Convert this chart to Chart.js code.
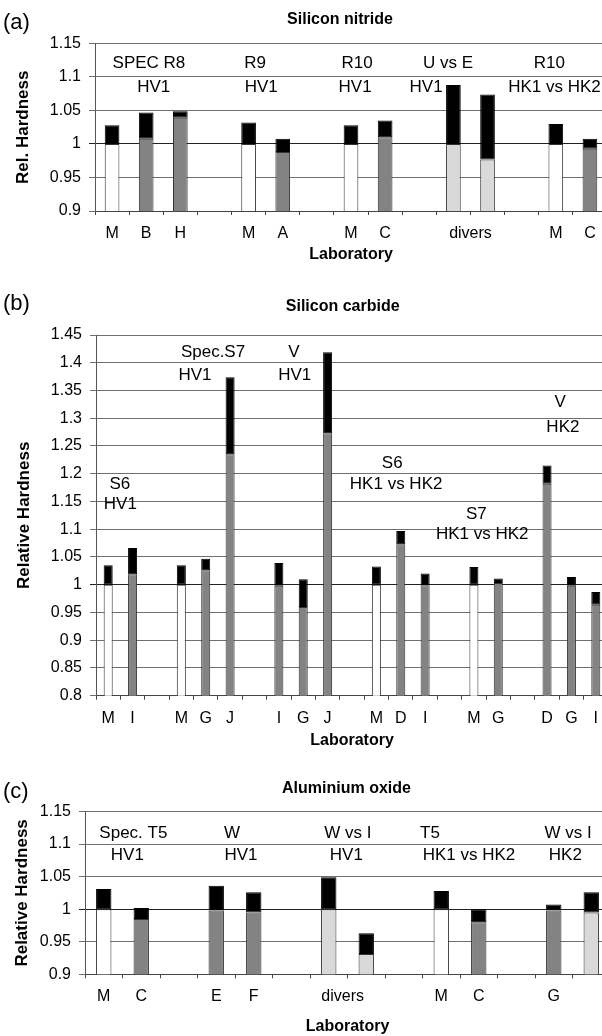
<!DOCTYPE html>
<html>
<head>
<meta charset="utf-8">
<script src="https://cdn.jsdelivr.net/npm/chart.js@4.4.1/dist/chart.umd.min.js"></script>
<style>
  html, body { margin: 0; padding: 0; background: #fff; overflow: hidden; width: 602px; height: 1036px; position: relative; }
  canvas { position: absolute; left: 0; }
</style>
</head>
<body>
<canvas id="chartA" width="607" height="270" style="top:0px"></canvas>
<canvas id="chartB" width="608" height="475" style="top:280px"></canvas>
<canvas id="chartC" width="610" height="280" style="top:760px"></canvas>
<script>
// (a) Silicon nitride
const labelsA = ['M', 'B', 'H', '', 'M', 'A', '', 'M', 'C', '', '', '', '', 'M', 'C'];
const kindA = ['ref', 'lab', 'lab', null, 'ref', 'lab', null, 'ref', 'lab', null, 'div', 'div', null, 'ref', 'lab'];
const lowA = [1.0, 1.008, 1.039, null, 1.0, 0.988, null, 1.0, 1.01, null, 1.0, 0.977, null, 1.0, 0.993];
const highA = [1.028, 1.047, 1.049, null, 1.032, 1.008, null, 1.028, 1.035, null, 1.088, 1.074, null, 1.03, 1.008];
const ticksA = [0.9, 0.95, 1, 1.05, 1.1, 1.15];
const notesA = [
  ['SPEC R8', 1.08, 1.113], ['HV1', 1.22, 1.078],
  ['R9', 4.19, 1.113], ['HV1', 4.37, 1.078],
  ['R10', 7.18, 1.113], ['HV1', 7.12, 1.078],
  ['U vs E', 9.84, 1.113], ['HV1', 9.2, 1.078],
  ['R10', 12.81, 1.113], ['HK1 vs HK2', 12.96, 1.078]
];

// (b) Silicon carbide
const labelsB = ['M', 'I', '', 'M', 'G', 'J', '', 'I', 'G', 'J', '', 'M', 'D', 'I', '', 'M', 'G', '', 'D', 'G', 'I'];
const kindB = ['ref', 'lab', null, 'ref', 'lab', 'lab', null, 'lab', 'lab', 'lab', null, 'ref', 'lab', 'lab', null, 'ref', 'lab', null, 'lab', 'lab', 'lab'];
const lowB = [1.0, 1.019, null, 1.0, 1.026, 1.235, null, 0.998, 0.96, 1.273, null, 1.0, 1.073, 0.999, null, 1.0, 1.003, null, 1.182, 0.998, 0.964];
const highB = [1.035, 1.066, null, 1.035, 1.047, 1.374, null, 1.039, 1.01, 1.419, null, 1.033, 1.097, 1.02, null, 1.032, 1.011, null, 1.215, 1.014, 0.987];
const ticksB = [0.8, 0.85, 0.9, 0.95, 1, 1.05, 1.1, 1.15, 1.2, 1.25, 1.3, 1.35, 1.4, 1.45];
const notesB = [
  ['S6', 0.48, 1.172], ['HV1', 0.5, 1.136],
  ['Spec.S7', 4.3, 1.411], ['HV1', 3.56, 1.369],
  ['V', 7.62, 1.411], ['HV1', 7.65, 1.369],
  ['S6', 11.65, 1.211], ['HK1 vs HK2', 11.81, 1.172],
  ['S7', 15.1, 1.118], ['HK1 vs HK2', 15.34, 1.082],
  ['V', 18.54, 1.32], ['HK2', 18.65, 1.276]
];

// (c) Aluminium oxide
const labelsC = ['M', 'C', '', 'E', 'F', '', '', '', '', 'M', 'C', '', 'G', ''];
const kindC = ['ref', 'lab', null, 'lab', 'lab', null, 'div', 'div', null, 'ref', 'lab', null, 'lab', 'div'];
const lowC = [1.0, 0.985, null, 0.998, 0.995, null, 1.0, 0.931, null, 1.0, 0.98, null, 0.998, 0.995];
const highC = [1.031, 1.002, null, 1.036, 1.026, null, 1.049, 0.963, null, 1.028, 1.0, null, 1.007, 1.026];
const ticksC = [0.9, 0.95, 1, 1.05, 1.1, 1.15];
const notesC = [
  ['Spec. T5', 0.79, 1.109], ['HV1', 0.63, 1.0755],
  ['W', 3.42, 1.109], ['HV1', 3.66, 1.0755],
  ['W vs I', 6.51, 1.109], ['HV1', 6.47, 1.0755],
  ['T5', 8.7, 1.109], ['HK1 vs HK2', 9.74, 1.0755],
  ['W vs I', 12.38, 1.109], ['HK2', 12.31, 1.0755]
];

const FONT = "'Liberation Sans', Arial, Helvetica, sans-serif";
const fills = { ref: '#ffffff', lab: '#838383', div: '#d9d9d9' };

Chart.defaults.font.family = FONT;
Chart.defaults.color = '#000';

// texts that are not axis ticks: panel letter, title, notes, 'divers'
const textPlugin = (p) => ({
  id: 'texts',
  afterDraw(chart) {
    const { ctx, scales: { x, y } } = chart;
    ctx.save();
    ctx.fillStyle = '#000';
    ctx.textBaseline = 'middle';
    ctx.textAlign = 'left';
    ctx.font = '22px ' + FONT;
    ctx.fillText(p.panel, 3, p.panelY);
    ctx.textAlign = 'center';
    ctx.font = 'bold 16px ' + FONT;
    ctx.fillText(p.title, p.titleX, p.titleY);

    ctx.font = '17px ' + FONT;
    ctx.textBaseline = 'alphabetic';
    p.notes.forEach(([t, i, v]) => {
      ctx.fillText(t, x.getPixelForValue(i), y.getPixelForValue(v));
    });

    if (p.divers !== undefined) {
      ctx.font = '16px ' + FONT;
      ctx.textBaseline = 'middle';
      ctx.fillText('divers', x.getPixelForValue(p.divers), x.top + 4 + p.xPad + 9.6);
    }
    ctx.restore();
  }
});

function buildChart(id, labels, kinds, low, high, yTicks, p) {
  const caps = high.map((h, i) => (h === null ? null : h - low[i]));
  new Chart(document.getElementById(id), {
    type: 'bar',
    data: {
      labels: labels,
      datasets: [
        {
          data: low,
          backgroundColor: kinds.map((k) => fills[k] || '#fff'),
          borderColor: '#333',
          borderWidth: 1,
          borderSkipped: false,
        },
        {
          data: caps,
          backgroundColor: '#000',
          borderColor: '#000',
          borderWidth: 1,
          borderSkipped: false,
        },
      ],
    },
    options: {
      responsive: false,
      animation: false,
      devicePixelRatio: 1,
      layout: { padding: { top: p.top, left: 0, right: 0, bottom: 0 } },
      datasets: { bar: { barPercentage: p.bar, categoryPercentage: 1 } },
      plugins: {
        legend: { display: false },
        tooltip: { enabled: false },
        title: { display: false },
      },
      scales: {
        x: {
          stacked: true,
          offset: true,
          grid: { offset: true, drawOnChartArea: false, drawTicks: true, tickLength: 4, color: '#444' },
          border: { color: '#444' },
          ticks: { color: '#000', padding: p.xPad, autoSkip: false, maxRotation: 0, font: { size: 16 } },
          title: {
            display: true,
            text: 'Laboratory',
            color: '#000',
            font: { size: 16, weight: 'bold' },
            padding: { top: 0, bottom: p.labPad },
          },
          afterFit: (s) => { s.height = p.xHeight; },
        },
        y: {
          stacked: true,
          min: yTicks[0],
          max: yTicks[yTicks.length - 1],
          afterBuildTicks: (s) => { s.ticks = yTicks.map((v) => ({ value: v })); },
          grid: {
            color: (c) => (c.tick && c.tick.value === 1 ? '#222' : '#707070'),
            tickLength: 6,
          },
          border: { color: '#555' },
          ticks: { color: '#000', padding: 8, font: { size: 16 }, callback: (v) => String(+v.toFixed(2)) },
          title: {
            display: true,
            text: p.yTitle,
            color: '#000',
            font: { size: 17, weight: 'bold' },
            padding: { top: p.yTitlePad, bottom: 0 },
          },
          afterFit: (s) => { s.width = p.axisX; },
        },
      },
    },
    plugins: [textPlugin(p)],
  });
}

buildChart('chartA', labelsA, kindA, lowA, highA, ticksA, {
  panel: '(a)', panelY: 23, title: 'Silicon nitride', titleX: 340, titleY: 20,
  notes: notesA, divers: 10.5, yTitle: 'Rel. Hardness',
  top: 43.5, xHeight: 59, xPad: 9.4, labPad: 5.5, axisX: 95, yTitlePad: 12.8, bar: 0.43,
});

buildChart('chartB', labelsB, kindB, lowB, highB, ticksB, {
  panel: '(b)', panelY: 23.5, title: 'Silicon carbide', titleX: 342.7, titleY: 26.5,
  notes: notesB, yTitle: 'Relative Hardness',
  top: 55, xHeight: 59.3, xPad: 9.7, labPad: 4.4, axisX: 96, yTitlePad: 13.8, bar: 0.37,
});

buildChart('chartC', labelsC, kindC, lowC, highC, ticksC, {
  panel: '(c)', panelY: 32, title: 'Aluminium oxide', titleX: 346.5, titleY: 29,
  notes: notesC, divers: 6.37, yTitle: 'Relative Hardness',
  top: 51.5, xHeight: 65.7, xPad: 8.6, labPad: 3.4, axisX: 85, yTitlePad: 11.8, bar: 0.41,
});
</script>
</body>
</html>
